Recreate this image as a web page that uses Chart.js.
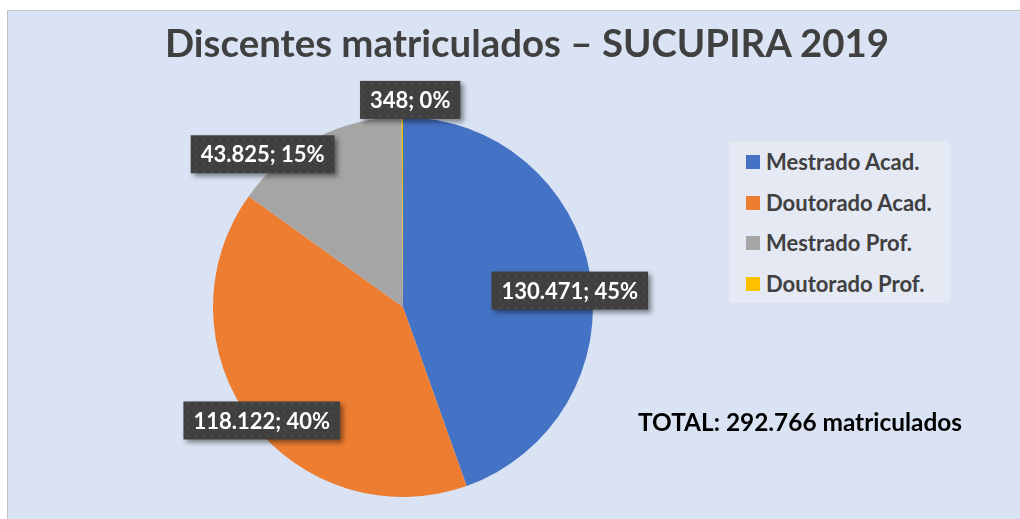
<!DOCTYPE html>
<html lang="pt-BR">
<head>
    <meta charset="UTF-8">
    <title>Discentes matriculados – SUCUPIRA 2019</title>
    <script src="https://cdn.jsdelivr.net/npm/chart.js"></script>
    <style>
        html, body { margin: 0; padding: 0; background: #fff; }
        .frame {
            position: absolute; left: 7px; top: 10px; width: 1013px; height: 509px;
            background: #dae3f3; border-left: 1px solid #c3c3c3; border-top: 1px solid #c3c3c3;
            box-sizing: border-box; overflow: hidden;
        }
        #chart { position: absolute; left: 0; top: 0; }
        .title {
            position: absolute; left: 165px; top: 7px; white-space: nowrap;
            font: bold 38.4px Lato, sans-serif; color: #404040; line-height: 70px;
        }
        .legend {
            position: absolute; left: 729px; top: 141px; width: 221px; height: 162px;
            background: #e4e9f4;
        }
        .legend div {
            position: absolute; left: 37px; font: bold 22px Lato, sans-serif; color: #404040;
            line-height: 26px; white-space: nowrap;
        }
        .legend span {
            position: absolute; left: -20px; top: 6px; width: 14px; height: 14px;
        }
        .total {
            position: absolute; left: 638px; top: 405px;
            font: bold 24.4px Lato, sans-serif; color: #000; line-height: 34px; white-space: nowrap;
        }
    </style>
</head>
<body>
    <div class="frame"></div>
    <canvas id="chart" width="1020" height="519"></canvas>
    <div class="title">Discentes matriculados – SUCUPIRA 2019</div>
    <div class="legend" id="legend"></div>
    <div class="total" id="total"></div>

    <script>
        // data
        const categories = ['Mestrado Acad.', 'Doutorado Acad.', 'Mestrado Prof.', 'Doutorado Prof.'];
        const students = [130471, 118122, 43825, 348];
        const percents = [45, 40, 15, 0];
        const totalStudents = 292766;
        const colors = ['#4472c4', '#ed7d31', '#a5a5a5', '#ffc000'];

        const fmt = n => n.toLocaleString('de-DE');

        // legend + total as html
        const legend = document.getElementById('legend');
        categories.forEach((c, i) => {
            const row = document.createElement('div');
            row.style.top = (8 + i * 40.5) + 'px';
            row.innerHTML = '<span style="background:' + colors[i] + '"></span>' + c;
            legend.appendChild(row);
        });
        document.getElementById('total').textContent = 'TOTAL: ' + fmt(totalStudents) + ' matriculados';

        // little dotted fill used by the label boxes
        const tile = document.createElement('canvas');
        tile.width = 8; tile.height = 8;
        const tctx = tile.getContext('2d');
        tctx.fillStyle = '#404040';
        tctx.fillRect(0, 0, 8, 8);
        tctx.fillStyle = '#4c4c4c';
        tctx.fillRect(3, 3, 2, 2);

        // where each label sits: fraction of radius along the slice middle, then a nudge
        const labelSpots = [
            { f: 0.88, dx: 2, dy: 12 },
            { f: 0.95, dx: 3, dy: 5 },
            { f: 1.0, dx: -53, dy: 16 },
            { f: 1.09, dx: 8, dy: 0 }
        ];

        const boxLabels = {
            id: 'boxLabels',
            afterDatasetsDraw(chart) {
                const ctx = chart.ctx;
                const pattern = ctx.createPattern(tile, 'repeat');
                chart.getDatasetMeta(0).data.forEach((arc, i) => {
                    const p = arc.getProps(['x', 'y', 'startAngle', 'endAngle', 'outerRadius'], true);
                    const mid = (p.startAngle + p.endAngle) / 2;
                    const s = labelSpots[i];
                    const cx = p.x + Math.cos(mid) * p.outerRadius * s.f + s.dx;
                    const cy = p.y + Math.sin(mid) * p.outerRadius * s.f + s.dy;
                    const text = fmt(students[i]) + '; ' + percents[i] + '%';
                    ctx.save();
                    ctx.font = 'bold 22px Lato, sans-serif';
                    const w = ctx.measureText(text).width + 20;
                    const h = 38;
                    ctx.shadowColor = 'rgba(0,0,0,0.45)';
                    ctx.shadowBlur = 5;
                    ctx.shadowOffsetX = 3;
                    ctx.shadowOffsetY = 3;
                    ctx.fillStyle = pattern;
                    ctx.fillRect(cx - w / 2, cy - h / 2, w, h);
                    ctx.shadowColor = 'transparent';
                    ctx.fillStyle = '#fff';
                    ctx.textAlign = 'center';
                    ctx.textBaseline = 'middle';
                    ctx.fillText(text, cx, cy + 1);
                    ctx.restore();
                });
            }
        };

        new Chart(document.getElementById('chart'), {
            type: 'pie',
            data: {
                labels: categories,
                datasets: [{
                    data: students,
                    backgroundColor: colors,
                    borderWidth: 0
                }]
            },
            options: {
                responsive: false,
                animation: false,
                layout: { padding: { left: 213, right: 427, top: 117, bottom: 22 } },
                plugins: {
                    legend: { display: false },
                    tooltip: { enabled: false }
                }
            },
            plugins: [boxLabels]
        });
    </script>
</body>
</html>
